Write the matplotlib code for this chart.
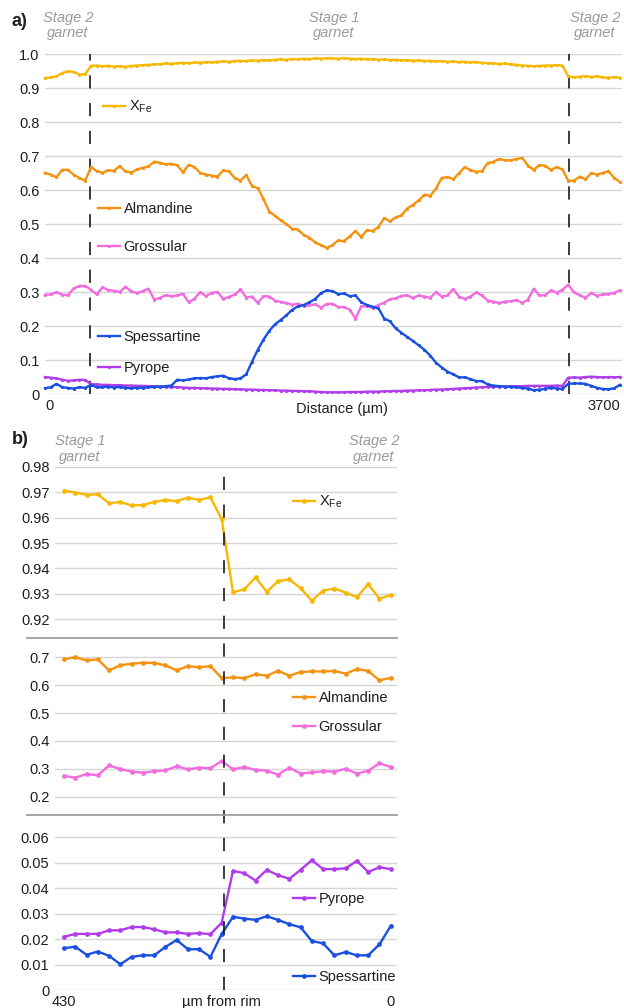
import numpy as np
import matplotlib
matplotlib.use("Agg")
import matplotlib.pyplot as plt
from matplotlib.lines import Line2D
from matplotlib.legend import Legend
from matplotlib import transforms

plt.rcParams["font.family"] = ["Liberation Sans", "DejaVu Sans"]
plt.rcParams["lines.scale_dashes"] = False
plt.rcParams["mathtext.default"] = "regular"

# ---------------- panel a: full traverse across the grain ----------------
traverse_um = np.linspace(0, 3700, 101)

xfe_a = [0.930, 0.932, 0.935, 0.945, 0.950, 0.948, 0.940, 0.942, 0.966, 0.967,
         0.965, 0.966, 0.964, 0.965, 0.963, 0.966, 0.967, 0.968, 0.969, 0.970,
         0.971, 0.973, 0.972, 0.974, 0.975, 0.974, 0.976, 0.975, 0.977, 0.976,
         0.978, 0.979, 0.978, 0.980, 0.981, 0.980, 0.982, 0.981, 0.983, 0.982,
         0.984, 0.985, 0.984, 0.986, 0.985, 0.987, 0.986, 0.988, 0.987, 0.989,
         0.988, 0.987, 0.989, 0.987, 0.986, 0.987, 0.985, 0.986, 0.984, 0.985,
         0.983, 0.984, 0.982, 0.983, 0.981, 0.982, 0.980, 0.981, 0.979, 0.980,
         0.978, 0.979, 0.977, 0.978, 0.976, 0.977, 0.975, 0.974, 0.973, 0.972,
         0.973, 0.970, 0.969, 0.967, 0.966, 0.965, 0.966, 0.967, 0.967, 0.968,
         0.967, 0.935, 0.932, 0.934, 0.936, 0.933, 0.935, 0.932, 0.931, 0.933,
         0.931]

alm_a = [0.651, 0.646, 0.638, 0.660, 0.660, 0.645, 0.636, 0.628, 0.668, 0.656,
         0.651, 0.659, 0.657, 0.671, 0.655, 0.652, 0.661, 0.666, 0.670, 0.684,
         0.681, 0.676, 0.678, 0.673, 0.653, 0.675, 0.668, 0.651, 0.646, 0.643,
         0.640, 0.658, 0.655, 0.636, 0.628, 0.645, 0.612, 0.606, 0.574, 0.537,
         0.525, 0.511, 0.500, 0.486, 0.484, 0.468, 0.460, 0.446, 0.438, 0.430,
         0.438, 0.452, 0.450, 0.464, 0.480, 0.462, 0.483, 0.480, 0.492, 0.518,
         0.508, 0.520, 0.526, 0.546, 0.557, 0.570, 0.587, 0.583, 0.605, 0.636,
         0.639, 0.632, 0.650, 0.668, 0.659, 0.654, 0.656, 0.680, 0.684, 0.692,
         0.688, 0.688, 0.692, 0.695, 0.672, 0.660, 0.674, 0.672, 0.660, 0.668,
         0.661, 0.628, 0.628, 0.640, 0.632, 0.650, 0.646, 0.651, 0.656, 0.636,
         0.624]

grs_a = [0.292, 0.293, 0.300, 0.292, 0.291, 0.311, 0.318, 0.318, 0.307, 0.293,
         0.314, 0.306, 0.304, 0.300, 0.316, 0.302, 0.297, 0.303, 0.310, 0.278,
         0.283, 0.291, 0.288, 0.290, 0.295, 0.270, 0.281, 0.300, 0.288, 0.298,
         0.300, 0.280, 0.286, 0.293, 0.308, 0.284, 0.287, 0.268, 0.288, 0.287,
         0.275, 0.271, 0.268, 0.263, 0.266, 0.259, 0.261, 0.264, 0.254, 0.265,
         0.266, 0.256, 0.256, 0.248, 0.222, 0.258, 0.258, 0.253, 0.262, 0.269,
         0.279, 0.282, 0.289, 0.290, 0.283, 0.290, 0.287, 0.283, 0.300, 0.287,
         0.290, 0.309, 0.287, 0.280, 0.287, 0.299, 0.290, 0.275, 0.272, 0.268,
         0.272, 0.273, 0.277, 0.268, 0.278, 0.310, 0.290, 0.291, 0.305, 0.298,
         0.307, 0.322, 0.299, 0.291, 0.283, 0.298, 0.289, 0.293, 0.294, 0.298,
         0.305]

sps_a = [0.017, 0.020, 0.030, 0.020, 0.018, 0.016, 0.020, 0.018, 0.027, 0.020,
         0.020, 0.022, 0.019, 0.021, 0.018, 0.017, 0.019, 0.018, 0.020, 0.021,
         0.022, 0.023, 0.025, 0.042, 0.040, 0.043, 0.046, 0.047, 0.046, 0.050,
         0.052, 0.054, 0.046, 0.044, 0.046, 0.058, 0.095, 0.130, 0.160, 0.186,
         0.205, 0.218, 0.232, 0.248, 0.258, 0.262, 0.270, 0.280, 0.297, 0.305,
         0.303, 0.294, 0.296, 0.288, 0.290, 0.270, 0.262, 0.257, 0.252, 0.222,
         0.214, 0.193, 0.180, 0.168, 0.156, 0.143, 0.130, 0.113, 0.092, 0.078,
         0.066, 0.058, 0.049, 0.049, 0.044, 0.038, 0.038, 0.028, 0.025, 0.023,
         0.022, 0.021, 0.020, 0.018, 0.016, 0.011, 0.013, 0.015, 0.019, 0.016,
         0.015, 0.030, 0.031, 0.031, 0.030, 0.024, 0.018, 0.015, 0.014, 0.017,
         0.027]

prp_a = [0.050, 0.048, 0.046, 0.042, 0.039, 0.040, 0.042, 0.041, 0.029, 0.028,
         0.027, 0.027, 0.026, 0.026, 0.025, 0.025, 0.024, 0.024, 0.023, 0.023,
         0.022, 0.021, 0.021, 0.020, 0.019, 0.018, 0.018, 0.017, 0.017, 0.016,
         0.016, 0.015, 0.015, 0.014, 0.014, 0.013, 0.013, 0.012, 0.012, 0.011,
         0.011, 0.010, 0.010, 0.009, 0.009, 0.008, 0.008, 0.007, 0.006, 0.005,
         0.005, 0.005, 0.005, 0.006, 0.006, 0.006, 0.007, 0.007, 0.007, 0.008,
         0.008, 0.009, 0.009, 0.010, 0.010, 0.011, 0.011, 0.012, 0.013, 0.013,
         0.014, 0.015, 0.016, 0.017, 0.018, 0.019, 0.020, 0.021, 0.021, 0.022,
         0.022, 0.023, 0.023, 0.023, 0.024, 0.024, 0.024, 0.024, 0.024, 0.025,
         0.024, 0.048, 0.049, 0.048, 0.050, 0.051, 0.050, 0.049, 0.050, 0.049,
         0.050]

stage_bounds_a = [290, 3370]
yticks_a = [0, 0.1, 0.2, 0.3, 0.4, 0.5, 0.6, 0.7, 0.8, 0.9, 1.0]
yticklabels_a = ["0", "0.1", "0.2", "0.3", "0.4", "0.5", "0.6", "0.7", "0.8", "0.9", "1.0"]

# ---------------- panel b: outer 430 µm next to the rim ----------------
rim_um = np.linspace(430, 0, 30)

xfe_b = [0.9707, 0.9699, 0.9690, 0.9692, 0.9657, 0.9662, 0.9648, 0.9650, 0.9662, 0.9670,
         0.9665, 0.9679, 0.9670, 0.9680, 0.9594, 0.9306, 0.9318, 0.9365, 0.9308, 0.9350,
         0.9357, 0.9322, 0.9273, 0.9313, 0.9321, 0.9305, 0.9287, 0.9338, 0.9281, 0.9296]
alm_b = [0.693, 0.700, 0.689, 0.692, 0.653, 0.671, 0.677, 0.680, 0.680, 0.671,
         0.653, 0.668, 0.664, 0.668, 0.625, 0.628, 0.625, 0.639, 0.634, 0.651,
         0.634, 0.647, 0.649, 0.649, 0.651, 0.641, 0.658, 0.651, 0.617, 0.626]
grs_b = [0.275, 0.268, 0.281, 0.277, 0.312, 0.299, 0.290, 0.286, 0.291, 0.294,
         0.309, 0.298, 0.304, 0.302, 0.328, 0.298, 0.306, 0.296, 0.293, 0.279,
         0.304, 0.283, 0.287, 0.291, 0.290, 0.300, 0.283, 0.293, 0.320, 0.306]
prp_b = [0.0210, 0.0221, 0.0221, 0.0221, 0.0235, 0.0235, 0.0248, 0.0248, 0.0239, 0.0227,
         0.0227, 0.0221, 0.0224, 0.0220, 0.0265, 0.0468, 0.0459, 0.0430, 0.0472, 0.0451,
         0.0437, 0.0472, 0.0510, 0.0475, 0.0475, 0.0478, 0.0507, 0.0464, 0.0482, 0.0475]
sps_b = [0.0165, 0.0171, 0.0139, 0.0152, 0.0135, 0.0102, 0.0131, 0.0137, 0.0137, 0.0170,
         0.0197, 0.0161, 0.0161, 0.0131, 0.0221, 0.0288, 0.0281, 0.0276, 0.0290, 0.0276,
         0.0259, 0.0247, 0.0193, 0.0184, 0.0137, 0.0150, 0.0137, 0.0137, 0.0180, 0.0252]

stage_bound_b = 220
yticks_b_top = [0.92, 0.93, 0.94, 0.95, 0.96, 0.97, 0.98]
yticks_b_mid = [0.2, 0.3, 0.4, 0.5, 0.6, 0.7]
yticks_b_low = [0, 0.01, 0.02, 0.03, 0.04, 0.05, 0.06]
yticklabels_b_low = ["0", "0.01", "0.02", "0.03", "0.04", "0.05", "0.06"]

# ---------------- styling ----------------
C_XFE = "#F6B800"
C_ALM = "#F5920F"
C_GRS = "#F26CE0"
C_SPS = "#1A50E2"
C_PRP = "#B03CEA"
GRID = "#d6d6d6"
SEP = "#9e9e9e"
STAGE = "#9a9a9a"
TXT = "#1e1e1e"
FS = 10.5

W, H, DPI = 624, 1008, 100
fig = plt.figure(figsize=(W / DPI, H / DPI), dpi=DPI)


def fx(px):
    return px / W


def fy(py):
    return 1 - py / H


def add_ax(left, top, right, bottom):
    ax = fig.add_axes([fx(left), fy(bottom), (right - left) / W, (bottom - top) / H])
    for s in ax.spines.values():
        s.set_visible(False)
    ax.set_axisbelow(True)
    ax.grid(axis="y", color=GRID, lw=1.0)
    ax.grid(axis="x", visible=False)
    ax.tick_params(length=0, labelsize=FS, labelcolor=TXT)
    ax.tick_params(axis="y", pad=4)
    ax.tick_params(axis="x", pad=3.5)
    return ax


def series(ax, x, y, color, lw=1.7, ms=2.3):
    (ln,) = ax.plot(x, y, color=color, lw=lw, marker="o", ms=ms, mew=0,
                    clip_on=False, zorder=3)
    return ln


def tag(ax, line, label, px, py):
    # one single-entry key placed beside its own curve
    leg = Legend(ax, [line], [label], loc="center left",
                 bbox_to_anchor=(fx(px), fy(py)), bbox_transform=fig.transFigure,
                 frameon=False, borderpad=0, borderaxespad=0, handlelength=1.5,
                 handletextpad=0.25, numpoints=1, fontsize=FS, labelcolor=TXT)
    ax.add_artist(leg)


DASH = dict(color="#1a1a1a", lw=1.2, dashes=(9.5, 10.5))

# ---- panel a ----
ax_a = add_ax(45, 54.3, 622, 394)
ax_a.set_xlim(0, 3713)
ax_a.set_ylim(0, 1.0)
ax_a.set_yticks(yticks_a)
ax_a.set_yticklabels(yticklabels_a)
ax_a.set_xticks([0, 3700])
ax_a.set_xticklabels(["0", "3700"])
xt = ax_a.get_xticklabels()
xt[0].set_ha("left")
xt[1].set_ha("right")
ax_a.set_xlabel("Distance (µm)", fontsize=FS, color=TXT)
ax_a.xaxis.set_label_coords((342 - 45) / 577, -0.024)

for b in stage_bounds_a:
    ax_a.axvline(b, zorder=2, **DASH)

la_xfe = series(ax_a, traverse_um, xfe_a, C_XFE)
la_alm = series(ax_a, traverse_um, alm_a, C_ALM)
la_grs = series(ax_a, traverse_um, grs_a, C_GRS)
la_prp = series(ax_a, traverse_um, prp_a, C_PRP)
la_sps = series(ax_a, traverse_um, sps_a, C_SPS)

tag(ax_a, la_xfe, r"X$_{\mathregular{Fe}}$", 103, 107)
tag(ax_a, la_alm, "Almandine", 98, 209)
tag(ax_a, la_grs, "Grossular", 98, 247)
tag(ax_a, la_sps, "Spessartine", 98, 337)
tag(ax_a, la_prp, "Pyrope", 98, 368)

# ---- panel b ----
XL_B = (441.85, -8.3)
ax_b1 = add_ax(55, 466.9, 397, 638.3)
ax_b1.set_ylim(0.9125, 0.98)
ax_b1.set_yticks(yticks_b_top)
ax_b1.set_yticklabels([f"{v:.2f}" for v in yticks_b_top])

ax_b2 = add_ax(55, 638.3, 397, 814.5)
ax_b2.set_ylim(0.136, 0.768)
ax_b2.set_yticks(yticks_b_mid)
ax_b2.set_yticklabels([f"{v:.1f}" for v in yticks_b_mid])

ax_b3 = add_ax(55, 814.5, 397, 990.3)
ax_b3.set_ylim(0, 0.0689)
ax_b3.set_yticks(yticks_b_low)
ax_b3.set_yticklabels(yticklabels_b_low)

for ax in (ax_b1, ax_b2, ax_b3):
    ax.set_xlim(*XL_B)
for ax in (ax_b1, ax_b2):
    ax.set_xticks([])
ax_b3.set_xticks([430, 0])
ax_b3.set_xticklabels(["430", "0"])
ax_b3.set_xlabel("µm from rim", fontsize=FS, color=TXT)
ax_b3.xaxis.set_label_coords((221 - 55) / 342, -0.024)

lb_xfe = series(ax_b1, rim_um, xfe_b, C_XFE, lw=1.7, ms=3.4)
lb_alm = series(ax_b2, rim_um, alm_b, C_ALM, lw=1.7, ms=3.4)
lb_grs = series(ax_b2, rim_um, grs_b, C_GRS, lw=1.7, ms=3.4)
lb_prp = series(ax_b3, rim_um, prp_b, C_PRP, lw=1.7, ms=3.4)
lb_sps = series(ax_b3, rim_um, sps_b, C_SPS, lw=1.7, ms=3.4)

tag(ax_b1, lb_xfe, r"X$_{\mathregular{Fe}}$", 293, 502)
tag(ax_b2, lb_alm, "Almandine", 293, 698)
tag(ax_b2, lb_grs, "Grossular", 293, 727)
tag(ax_b3, lb_prp, "Pyrope", 293, 899)
tag(ax_b3, lb_sps, "Spessartine", 293, 977)

# stage boundary running through all three rim panels
blend = transforms.blended_transform_factory(ax_b1.transData, fig.transFigure)
fig.add_artist(Line2D([stage_bound_b, stage_bound_b], [fy(990.3), fy(466.9)],
                      transform=blend, zorder=2, **DASH))

# separators between the rim panels
for py in (638.3, 814.5):
    fig.add_artist(Line2D([fx(27), fx(397)], [fy(py), fy(py)],
                          transform=fig.transFigure, color=SEP, lw=1.3))

# panel letters and stage annotations
fig.text(fx(12), fy(21.5), "a)", fontsize=13, fontweight="bold", color=TXT,
         ha="left", va="center")
fig.text(fx(12), fy(440), "b)", fontsize=13, fontweight="bold", color=TXT,
         ha="left", va="center")

stage_kw = dict(fontsize=FS, style="italic", color=STAGE, ha="center", va="center",
                linespacing=1.1)
fig.text(fx(68), fy(25.5), "Stage 2\ngarnet", **stage_kw)
fig.text(fx(334), fy(25.5), "Stage 1\ngarnet", **stage_kw)
fig.text(fx(595), fy(25.5), "Stage 2\ngarnet", **stage_kw)
fig.text(fx(80), fy(449), "Stage 1\ngarnet", **stage_kw)
fig.text(fx(374), fy(449), "Stage 2\ngarnet", **stage_kw)

fig.savefig("out.png", dpi=DPI)
